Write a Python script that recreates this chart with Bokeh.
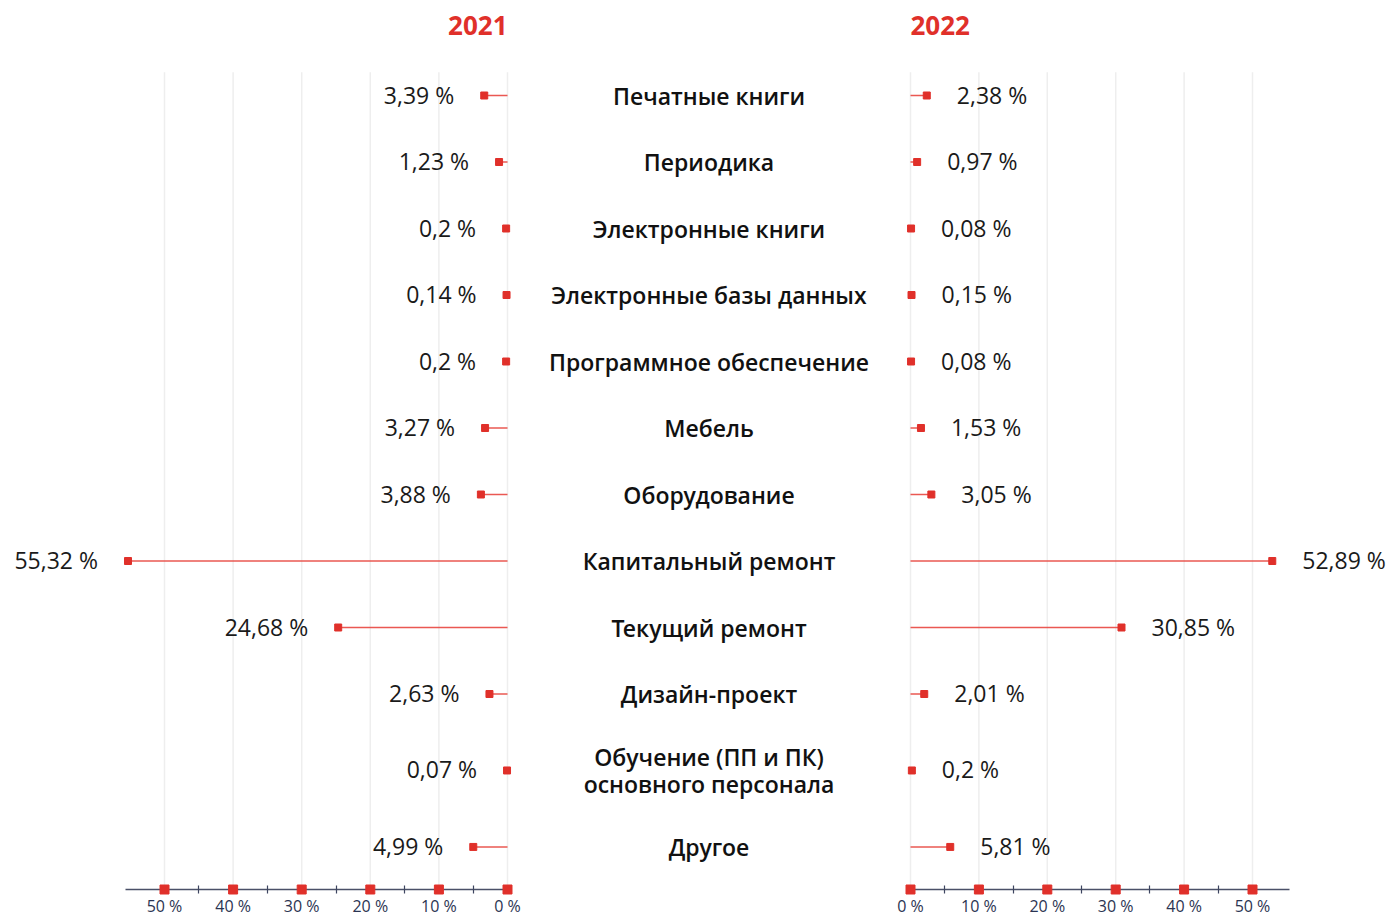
from bokeh.plotting import figure
from bokeh.models import Range1d, LinearAxis, FixedTicker, PrintfTickFormatter
from bokeh.core.properties import value
from bokeh.embed import file_html
from bokeh.resources import INLINE

# ---------------- data ----------------
categories = [
    "Печатные книги",
    "Периодика",
    "Электронные книги",
    "Электронные базы данных",
    "Программное обеспечение",
    "Мебель",
    "Оборудование",
    "Капитальный ремонт",
    "Текущий ремонт",
    "Дизайн-проект",
    "Обучение (ПП и ПК)\nосновного персонала",
    "Другое",
]
values_2021 = [3.39, 1.23, 0.2, 0.14, 0.2, 3.27, 3.88, 55.32, 24.68, 2.63, 0.07, 4.99]
values_2022 = [2.38, 0.97, 0.08, 0.15, 0.08, 1.53, 3.05, 52.89, 30.85, 2.01, 0.2, 5.81]
years = ["2021", "2022"]
tick_values = [0, 10, 20, 30, 40, 50]

# ---------------- layout ----------------
W, H = 1388, 917
ROW_PX = 66.5          # px per row unit
TOP_ROW_PX = 95        # canvas y of first row
ZERO_L, ZERO_R = 507, 910
PX_L, PX_R = 6.86, 6.84
AXIS_PX = 889
AXIS_Y = (AXIS_PX - TOP_ROW_PX) / ROW_PX
RED = "#e0302a"
LINE_RED = "#e8463f"
TEXT = "#1a1a1a"

# row positions: two-line labels get taller rows
heights = [1.0 if c.count("\n") == 0 else 1.3 for c in categories]
ys = [0.0]
for i in range(1, len(categories)):
    ys.append(ys[-1] + (heights[i - 1] + heights[i]) / 2)

y_range = Range1d(start=(H - TOP_ROW_PX) / ROW_PX, end=-TOP_ROW_PX / ROW_PX)
left_range = Range1d(start=ZERO_L / PX_L, end=-(W - ZERO_L) / PX_L)
right_range = Range1d(start=-ZERO_R / PX_R, end=(W - ZERO_R) / PX_R)

p = figure(width=W, height=H, x_range=right_range, y_range=y_range,
           x_axis_type=None, y_axis_type=None,
           output_backend="svg", toolbar_location=None,
           min_border=0, outline_line_color=None)
p.extra_x_ranges = {"left": left_range}
p.background_fill_color = "white"
p.border_fill_color = "white"

FONT = value("Open Sans")
SEMI = value("'Open Sans SemiBold', 'Open Sans'")
minor = [t + 5 for t in tick_values[:-1]]
grid_top = ys[0] - 0.35


def fmt(v):
    return f"{v:g}".replace(".", ",") + " %"


panels = [
    ("left", values_2021, years[0], -1, 55.7),
    ("default", values_2022, years[1], 1, 55.4),
]

for rname, vals, year, side, axis_max in panels:
    # grid lines
    p.segment(x0=tick_values, y0=[grid_top] * len(tick_values),
              x1=tick_values, y1=[AXIS_Y] * len(tick_values),
              x_range_name=rname, line_color="#eeeeee", line_width=1.5,
              level="underlay")
    # stems
    p.segment(x0=[0] * len(vals), y0=ys, x1=vals, y1=ys, x_range_name=rname,
              line_color=LINE_RED, line_width=1.5, line_alpha=0.9)
    # heads
    p.scatter(x=vals, y=ys, x_range_name=rname, marker="square", size=7,
              fill_color=RED, line_color=RED)
    # value labels
    p.text(x=vals, y=ys, text=[fmt(v) for v in vals], x_range_name=rname,
           x_offset=30 * side, y_offset=-1,
           text_align="left" if side > 0 else "right",
           text_baseline="middle", text_font=FONT, text_font_size="23px",
           text_color=TEXT)
    # year title
    p.text(x=[0], y=[ys[0] - 70 / ROW_PX], text=[year], x_range_name=rname,
           text_align="left" if side > 0 else "right", text_baseline="middle",
           text_font=FONT, text_font_style="bold", text_font_size="26px",
           text_color=RED)
    # axis
    ax = LinearAxis(x_range_name=rname, fixed_location=AXIS_Y,
                    ticker=FixedTicker(ticks=tick_values, minor_ticks=minor),
                    formatter=PrintfTickFormatter(format="%d %%"),
                    bounds=(0, axis_max))
    ax.axis_line_color = "#4a5068"
    ax.axis_line_width = 1.5
    ax.major_tick_in = 0
    ax.major_tick_out = 0
    ax.minor_tick_in = 4
    ax.minor_tick_out = 4
    ax.minor_tick_line_color = "#3d4560"
    ax.minor_tick_line_width = 1.2
    ax.major_label_standoff = 1
    ax.major_label_text_font = "Open Sans"
    ax.major_label_text_font_size = "16px"
    ax.major_label_text_color = "#2b3452"
    p.add_layout(ax, "below")
    # red tick squares
    p.scatter(x=tick_values, y=[AXIS_Y] * len(tick_values), x_range_name=rname,
              marker="square", size=9, fill_color=RED, line_color=RED,
              level="overlay")

# category labels centred between the two panels
mid_x = ((ZERO_L + ZERO_R) / 2 - ZERO_R) / PX_R
p.text(x=[mid_x] * len(categories), y=ys, text=categories,
       text_align="center", text_baseline="middle", text_font=SEMI,
       text_font_size="23px", text_color="#111111",
       text_line_height=0.86)

open("out.html", "w").write(file_html(p, INLINE))
